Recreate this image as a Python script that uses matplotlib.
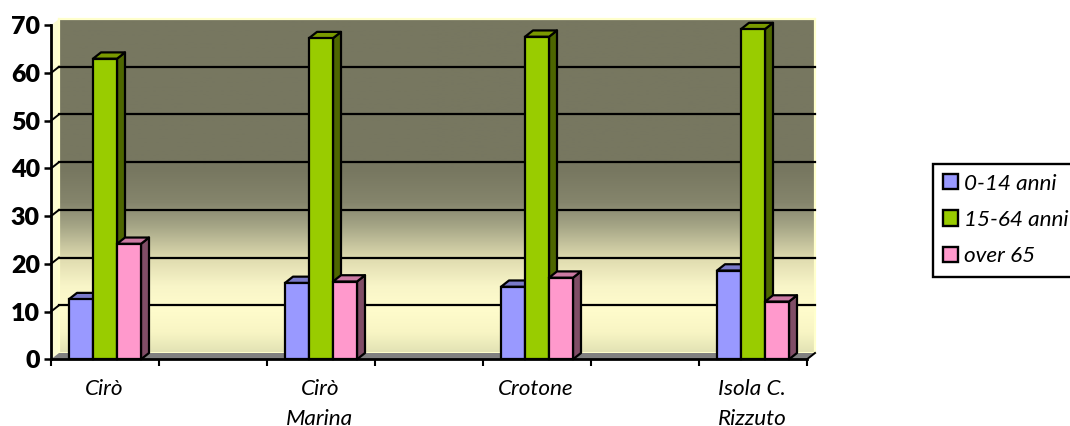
import matplotlib
matplotlib.use("Agg")
import numpy as np
import matplotlib.pyplot as plt
from matplotlib.colors import LinearSegmentedColormap
from matplotlib.patches import Polygon, Patch
from matplotlib.transforms import offset_copy

plt.rcParams['font.family'] = ['Lato', 'DejaVu Sans']

categories = ["Cirò", "Cirò\nMarina", "Crotone", "Isola C.\nRizzuto"]
series_names = ["0-14 anni", "15-64 anni", "over 65"]
age_0_14 = [12.6, 16.0, 15.2, 18.6]
age_15_64 = [63.0, 67.3, 67.6, 69.2]
age_over_65 = [24.2, 16.3, 17.1, 12.1]
yticks = [0, 10, 20, 30, 40, 50, 60, 70]

W, H, DPI = 1070, 426, 100
fig = plt.figure(figsize=(W / DPI, H / DPI), dpi=DPI, facecolor='white')
X0, X1, Y0, Y1 = 51, 807, 359.3, 25.3
ax = fig.add_axes([X0 / W, 1 - Y0 / H, (X1 - X0) / W, (Y0 - Y1) / H])
ax.set_xlim(-0.5, 6.5)
ax.set_ylim(0, 70)
ax.patch.set_visible(False)

DX, DY = 8, 6.3
back = offset_copy(ax.transData, fig=fig, x=DX * 72 / DPI, y=DY * 72 / DPI, units='points')

# wall gradient (top -> bottom)
stops = [(0.0, '#777760'), (0.45, '#777760'), (0.55, '#85856c'), (0.62, '#a5a586'),
         (0.72, '#e0dcb0'), (0.80, '#f8f5c8'), (0.87, '#fffccc'), (0.94, '#f8f5c4'), (1.0, '#e2e2b4')]
cmap = LinearSegmentedColormap.from_list('wall', stops)
grad = np.linspace(0, 1, 256).reshape(-1, 1)
ax.imshow(grad, cmap=cmap, aspect='auto', extent=(-0.5, 6.5, 0, 70), transform=back,
          origin='upper', clip_on=False, zorder=0)
ax.set_xlim(-0.5, 6.5)
ax.set_ylim(0, 70)

inv = ax.transData.inverted()
def to_back(x, y):
    return tuple(inv.transform(back.transform((x, y))))

edge = 'black'
lw = 1.6
rim = '#ffffcc'
# side wall, rim and floor
ax.add_patch(Polygon([(-0.5, 0), to_back(-0.5, 0), to_back(-0.5, 70), (-0.5, 70)], closed=True,
                     facecolor='#fcfcd2', edgecolor='none', clip_on=False, zorder=0.5))
ax.plot([-0.5, -0.5], [0, 70], transform=back, color=rim, lw=1.6, clip_on=False, zorder=1)
ax.plot([-0.5, 6.5], [70, 70], transform=back, color=rim, lw=1.6, clip_on=False, zorder=1)
ax.plot([6.5, 6.5], [0, 70], transform=back, color=rim, lw=1.6, clip_on=False, zorder=1)
ax.plot([-0.5, 6.5], [0, 0], transform=back, color=rim, lw=1.4, clip_on=False, zorder=1)

ax.add_patch(Polygon([(-0.5, 0), to_back(-0.5, 0), to_back(6.5, 0), (6.5, 0)], closed=True,
                     facecolor='#808080', edgecolor='none', clip_on=False, zorder=1.5))
for t in yticks[1:-1]:
    ax.plot([-0.5, 6.5], [t, t], transform=back, color='black', lw=1.6, clip_on=False, zorder=2)
for t in yticks[1:-1]:
    ax.plot(*zip((-0.5, t), to_back(-0.5, t)), color='black', lw=1.4, clip_on=False, zorder=2)
ax.plot(*zip((6.5, 0), to_back(6.5, 0)), color='black', lw=1.4, clip_on=False, zorder=2)

colors = [('#9999ff', '#666699', '#7a7ac9'), ('#99cc00', '#4d6600', '#7a9900'), ('#ff99cc', '#804d66', '#cc7aa3')]
values = [age_0_14, age_15_64, age_over_65]
bw = 24 / 108
z = 3
for g in range(len(categories)):
    xc = g * 2
    for s in range(3):
        v = values[s][g]
        l = xc + (s - 1.5) * bw
        r = l + bw
        front, side, top = colors[s]
        ax.add_patch(Polygon([(r, 0), to_back(r, 0), to_back(r, v), (r, v)], closed=True, facecolor=side,
                             edgecolor=edge, lw=lw, joinstyle='round', clip_on=False, zorder=z))
        ax.add_patch(Polygon([(l, v), to_back(l, v), to_back(r, v), (r, v)], closed=True, facecolor=top,
                             edgecolor=edge, lw=lw, joinstyle='round', clip_on=False, zorder=z))
        ax.bar(l, v, width=bw, align='edge', facecolor=front, edgecolor=edge, lw=lw, clip_on=False, zorder=z + 0.1)
        z += 0.2

for sp in ('top', 'right'):
    ax.spines[sp].set_visible(False)
for sp in ('left', 'bottom'):
    ax.spines[sp].set_linewidth(2.0)
    ax.spines[sp].set_zorder(20)

ax.set_yticks(yticks)
ax.set_yticklabels([str(t) for t in yticks], fontsize=18, fontweight=800)
ax.tick_params(axis='y', length=5, width=1.8, pad=3)
ax.set_xticks(np.arange(-0.5, 7, 1))
ax.set_xticklabels([])
ax.tick_params(axis='x', length=5, width=1.5)
for g, c in enumerate(categories):
    ax.annotate(c, xy=(g * 2 - 0.01, 0), xycoords=ax.get_xaxis_transform(), xytext=(0, -14),
                textcoords='offset points', ha='center', va='top', fontsize=16.2, style='italic',
                linespacing=1.62, annotation_clip=False)

handles = [Patch(facecolor=colors[i][0], edgecolor='black', lw=1.7) for i in range(3)]
leg = fig.legend(handles, series_names, loc='upper left', bbox_to_anchor=(933 / W, 1 - 163.5 / H),
                 bbox_transform=fig.transFigure, prop=dict(size=16.2, style='italic'),
                 frameon=True, fancybox=False, edgecolor='black', framealpha=1, borderaxespad=0,
                 borderpad=0.45, labelspacing=0.73, handlelength=0.68, handleheight=0.68, handletextpad=0.27)
leg.get_frame().set_linewidth(1.7)

fig.savefig('out.png', dpi=DPI)
